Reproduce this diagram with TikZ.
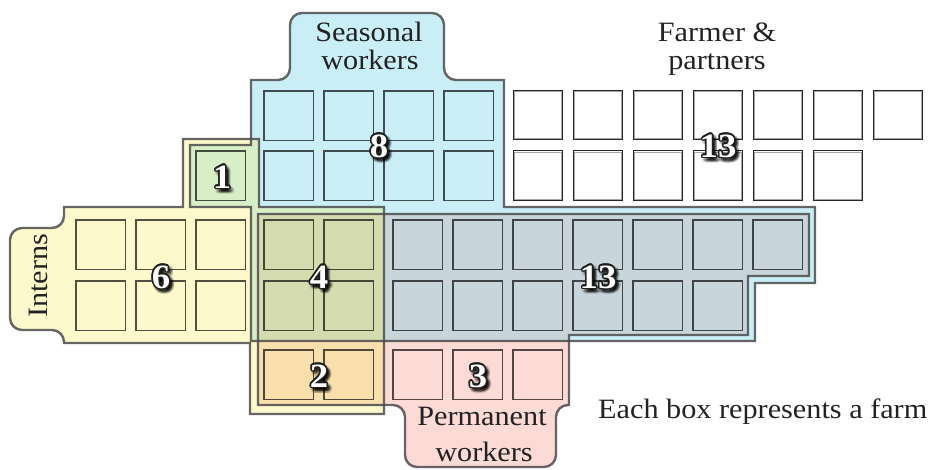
\documentclass[tikz,border=0pt]{standalone}
\usepackage{fontspec}
\setmainfont{Liberation Serif}[FakeStretch=1.08]
\definecolor{seas}{HTML}{C9EEF6}
\definecolor{intern}{HTML}{FDF9CC}
\definecolor{perm}{HTML}{FCDAD6}
\definecolor{greenc}{HTML}{D8EEC6}
\definecolor{olivec}{HTML}{D4DBAF}
\definecolor{orangec}{HTML}{F9DFAB}
\definecolor{greyc}{HTML}{C8D5DA}
\definecolor{ink}{HTML}{222222}
\newcommand\halo[3]{%
  \foreach \a in {0,22.5,...,337.5}{%
    \pgfmathsetlengthmacro\hx{#1*cos(\a)}%
    \pgfmathsetlengthmacro\hy{#1*sin(\a)}%
    \rlap{\kern\hx\raisebox{\hy}{\textcolor{#2}{#3}}}}}
\newcommand\numb[1]{\halo{1.5pt}{black!88}{#1}\textcolor{white}{#1}}
\newcommand\shad[1]{\halo{3pt}{black}{#1}\halo{1.5pt}{black}{#1}#1}
\tikzset{
  rim/.style={draw=black!70, draw opacity=0.85, line width=2.4pt, line join=miter,
              postaction={draw=white, draw opacity=0.7, line width=0.9pt}},
  cell/.style={draw=black, draw opacity=0.68, line width=1.1pt},
  fcello/.style={draw=black!85, line width=1pt},
  fcelli/.style={draw=black!35, line width=0.8pt},
  numf/.style={font=\fontsize{34}{34}\selectfont\bfseries, inner sep=0pt},
  lab/.style={font=\fontsize{28}{28}\selectfont, inner sep=0pt, text=ink}
}
\begin{document}
\begin{tikzpicture}[x=1pt,y=-1pt]
\useasboundingbox (0,0) rectangle (933,470);
% region paths
\path[save path=\Spath] (251,80) [rounded corners=12pt] -- (290,80) -- (290,13) -- (444,13) -- (444,80) [sharp corners] -- (504,80) -- (504,207) -- (815,207) -- (815,283) -- (755,283) -- (755,341) -- (251,341) -- (251,207) -- (190,207) -- (190,145) -- (251,145) -- cycle;
\path[save path=\Ipath] (183,207) -- (64,207) [rounded corners=12pt] -- (64,228) -- (10,228) -- (10,330) -- (64,330) [sharp corners] -- (64,343) -- (250,343) -- (250,414) -- (384,414) -- (384,207) -- (259,207) -- (259,139) -- (183,139) -- cycle;
\path[save path=\Ppath] (258,214) -- (809,214) -- (809,276) -- (748,276) -- (748,335) -- (569,335) -- (569,405) [rounded corners=12pt] -- (556,405) -- (556,467) -- (405,467) -- (405,405) [sharp corners] -- (258,405) -- cycle;
% fills
\fill[seas, use path=\Spath];
\fill[intern, use path=\Ipath];
\fill[perm, use path=\Ppath];
\fill[greenc] (251,139) -- (259,139) -- (259,207) -- (384,207) -- (384,341) -- (251,341) -- (251,207) -- (190,207) -- (190,145) -- (251,145) -- cycle;
\fill[olivec] (258,214) rectangle (384,341);
\fill[orangec] (258,341) rectangle (384,405);
\fill[greyc] (384,214) -- (809,214) -- (809,276) -- (748,276) -- (748,335) -- (569,335) -- (569,341) -- (384,341) -- cycle;
% outlines
\path[rim, use path=\Spath];
\path[rim, use path=\Ipath];
\path[rim, use path=\Ppath];
% boxes
\def\bs{49.5}
\foreach \x in {264,324,384,444} \foreach \y in {91,151} \draw[cell] (\x,\y) rectangle ++(\bs,\bs);
\draw[cell] (196,151) rectangle ++(\bs,\bs);
\foreach \x in {76,136,196} \foreach \y in {220,281} \draw[cell] (\x,\y) rectangle ++(\bs,\bs);
\foreach \x in {264,324} \foreach \y in {220,281,350} \draw[cell] (\x,\y) rectangle ++(\bs,\bs);
\foreach \x in {393,453,513,573,633,693,753} \draw[cell] (\x,220) rectangle ++(\bs,\bs);
\foreach \x in {393,453,513,573,633,693} \draw[cell] (\x,281) rectangle ++(\bs,\bs);
\foreach \x in {393,453,513} \draw[cell] (\x,350) rectangle ++(\bs,\bs);
\foreach \x in {513,573,633,693,753,813,873} {
  \draw[fcello] (\x,90.5) rectangle ++(\bs,\bs);
  \draw[fcelli] (\x+1.4,91.9) rectangle ++(\bs-2.8,\bs-2.8);}
\foreach \x in {513,573,633,693,753,813} {
  \draw[fcello] (\x,151) rectangle ++(\bs,\bs);
  \draw[fcelli] (\x+1.4,152.4) rectangle ++(\bs-2.8,\bs-2.8);}
% numbers
\foreach \nm/\x/\y/\t in {n1/222/177/1, n8/379/146/8, nf/718/146/13, n6/161/277/6, n4/319/277/4, n2/319/376/2, ng/598/277/13, n3/478/376/3} {
  \node[numf, text=black, text opacity=0.1] (\nm-s) at (\x+2.5,\y+3) {\shad{\t}};
  \node[numf, text=white] (\nm) at (\x,\y) {\numb{\t}};
}
% labels
\node[lab, anchor=base] (seas1) at (369,42) {Seasonal};
\node[lab, anchor=base] (seas2) at (370,70) {workers};
\node[lab, anchor=base] (farm1) at (717,42) {Farmer \&};
\node[lab, anchor=base] (farm2) at (717,70) {partners};
\node[lab, anchor=base, rotate=90] (intr) at (47,276) {Interns};
\node[lab, anchor=base] (perm1) at (482,425) {Permanent};
\node[lab, anchor=base] (perm2) at (484,461) {workers};
\node[lab, anchor=base west] (each) at (598,418) {Each box represents a farm};
\end{tikzpicture}
\end{document}
